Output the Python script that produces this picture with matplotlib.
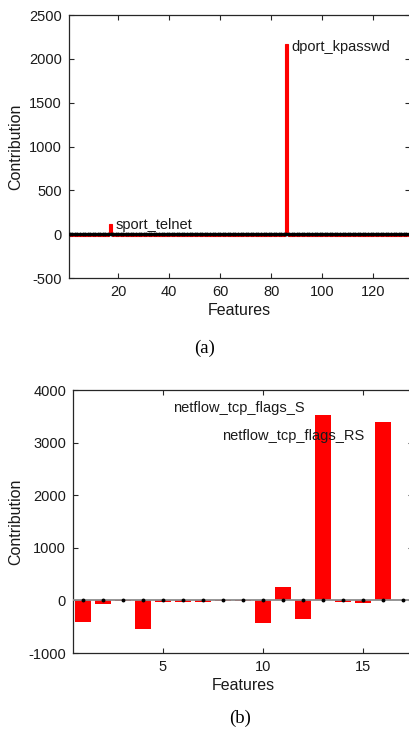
"""Feature contribution bar charts, two stacked panels (a) and (b)."""

import matplotlib

matplotlib.use("Agg")

import matplotlib.pyplot as plt
import numpy as np

RED = "#FF0000"
SPINE = "#262626"
ZERO_LINE = "#8C8C8C"
TEXT = "#1A1A1A"

plt.rcParams["font.family"] = ["Liberation Sans", "DejaVu Sans"]
plt.rcParams["axes.unicode_minus"] = False

# panel (a): 134 features, almost all sit just below zero
N_FEATURES_A = 134
BASE_VALUE_A = -25
SPIKES_A = {17: 120, 86: 2170}
LABELS_A = {17: "sport_telnet", 86: "dport_kpasswd"}
LABEL_Y_A = {17: 100, 86: 2140}
XTICKS_A = [20, 40, 60, 80, 100, 120]
YTICKS_A = [-500, 0, 500, 1000, 1500, 2000, 2500]

# panel (b): 17 features
CONTRIB_B = [-410, -60, -20, -550, -30, -30, -30, -20, -20, -430,
             250, -350, 3520, -25, -50, 3390, 15]
LABELS_B = {13: "netflow_tcp_flags_S", 16: "netflow_tcp_flags_RS"}
LABEL_POS_B = {13: (5.5, 3650), 16: (7.95, 3120)}
XTICKS_B = [5, 10, 15]
YTICKS_B = [-1000, 0, 1000, 2000, 3000, 4000]


def _style_axis(axis, xticks, yticks, xlim, ylim):
    axis.set_xlim(*xlim)
    axis.set_ylim(*ylim)
    axis.set_xticks(xticks)
    axis.set_yticks(yticks)
    axis.tick_params(direction="in", length=3.5, width=0.8, top=True, right=True,
                     colors=SPINE, labelcolor=TEXT, labelsize=10.5, pad=5)
    for spine in axis.spines.values():
        spine.set_color(SPINE)
        spine.set_linewidth(0.9)
    axis.set_xlabel("Features", fontsize=11.5, color=TEXT, labelpad=3)
    axis.set_ylabel("Contribution", fontsize=11.5, color=TEXT)


def _zero_markers(axis, positions):
    axis.axhline(0, color=ZERO_LINE, linewidth=1.3, zorder=3)
    axis.plot(positions, np.zeros(len(positions)), linestyle="none", marker="o",
              markersize=1.8, color="black", zorder=4)


figure = plt.figure(figsize=(4.09, 7.32), dpi=100, facecolor="white")

# ---- panel (a)
values_a = [BASE_VALUE_A] * N_FEATURES_A
for feature, value in SPIKES_A.items():
    values_a[feature - 1] = value
x_a = np.arange(1, N_FEATURES_A + 1)

axis_a = figure.add_axes([0.1687, 0.6202, 0.834, 0.3593])
axis_a.bar(x_a, values_a, width=0.9, color=RED, edgecolor=RED,
           linewidth=0.8, zorder=2)
_zero_markers(axis_a, x_a)
for feature, label in LABELS_A.items():
    axis_a.text(feature + 2, LABEL_Y_A[feature], label, fontsize=10.5,
                color=TEXT, ha="left", va="center", zorder=5)
_style_axis(axis_a, XTICKS_A, YTICKS_A, (0.7, 134.5), (-500, 2500))
axis_a.yaxis.set_label_coords(-0.135, 0.5)
figure.text(0.5, 1 - 348 / 732, "(a)", ha="center", va="center",
            family="Liberation Serif", fontsize=13.5, color="black")

# ---- panel (b)
x_b = np.arange(1, len(CONTRIB_B) + 1)
axis_b = figure.add_axes([0.1785, 0.1079, 0.831, 0.3593])
axis_b.bar(x_b, CONTRIB_B, width=0.83, color=RED, zorder=2)
_zero_markers(axis_b, x_b)
for feature, label in LABELS_B.items():
    x_text, y_text = LABEL_POS_B[feature]
    axis_b.text(x_text, y_text, label, fontsize=10.5, color=TEXT,
                ha="left", va="center", zorder=5)
_style_axis(axis_b, XTICKS_B, YTICKS_B, (0.5, 17.5), (-1000, 4000))
axis_b.yaxis.set_label_coords(-0.145, 0.5)
figure.text(0.587, 1 - 718 / 732, "(b)", ha="center", va="center",
            family="Liberation Serif", fontsize=13.5, color="black")

figure.savefig("out.png", dpi=100, facecolor="white")
plt.close(figure)
